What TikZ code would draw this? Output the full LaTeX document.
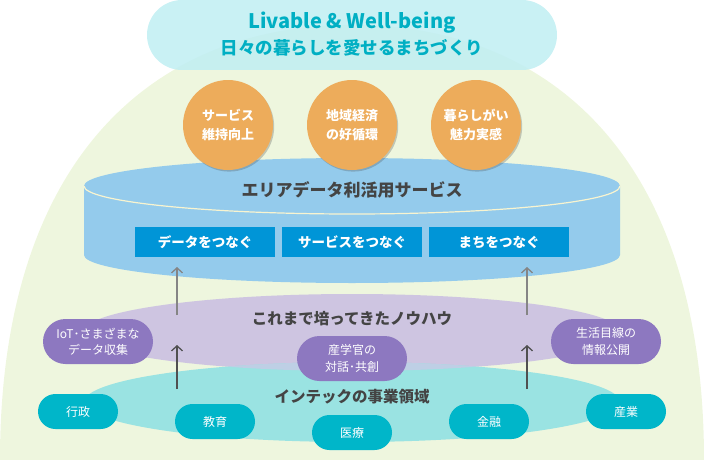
\documentclass[tikz,border=0pt]{standalone}
\usepackage{fontspec}
\setmainfont{Noto Sans CJK JP}
\usetikzlibrary{arrows.meta,shadows}
\definecolor{domecol}{HTML}{EEF6DE}
\definecolor{pillcol}{HTML}{BFEEF2}
\definecolor{titlecol}{HTML}{00AFC3}
\definecolor{orangecol}{HTML}{EDAC5B}
\definecolor{cylcol}{HTML}{94CBEC}
\definecolor{creamcol}{HTML}{F8F4D0}
\definecolor{bluecol}{HTML}{0095D7}
\definecolor{lavcol}{HTML}{CEC5E1}
\definecolor{cyancol}{HTML}{9AE3E2}
\definecolor{mixcol}{HTML}{BECFE5}
\definecolor{purplecol}{HTML}{8D78C0}
\definecolor{tealcol}{HTML}{00B6C9}
\definecolor{darktext}{HTML}{444444}
\definecolor{arrowlight}{HTML}{858585}
\definecolor{arrowdark}{HTML}{505050}
\begin{document}
\begin{tikzpicture}[x=1pt,y=-1pt,
  titlepill/.style={fill=pillcol,fill opacity=0.85,rounded corners=35pt,minimum width=410pt,minimum height=70pt,inner sep=0pt},
  titletext/.style={text=titlecol,font=\bfseries},
  goalcircle/.style={circle,fill=orangecol,minimum size=90pt,inner sep=0pt,text=white,align=center,
    font=\bfseries\fontsize{13}{19}\selectfont,
    drop shadow={shadow xshift=1.2pt,shadow yshift=-1.6pt,opacity=0.28,fill=black!70}},
  bluebox/.style={fill=bluecol,minimum width=140pt,minimum height=30pt,inner sep=0pt,text=white,font=\bfseries\fontsize{13.5}{16}\selectfont},
  layertext/.style={text=darktext,font=\bfseries\fontsize{15.5}{18}\selectfont},
  purplepill/.style={fill=purplecol,rounded corners=22.5pt,minimum width=110pt,minimum height=45pt,inner sep=0pt,text=white,align=center,font=\fontsize{12}{16.3}\selectfont},
  tealpill/.style={fill=tealcol,rounded corners=17.5pt,minimum width=80pt,minimum height=35pt,inner sep=0pt,text=white,font=\fontsize{12}{14}\selectfont},
  uparrowlight/.style={draw=arrowlight,line width=1.3pt,-{Straight Barb[length=5pt,width=11pt]}},
  uparrowdark/.style={draw=arrowdark,line width=1.3pt,-{Straight Barb[length=5pt,width=11pt]}}
]
\useasboundingbox (0,0) rectangle (704,460);
% dome
\fill[domecol] (0,460) .. controls (0,160) and (152,25) .. (352,25) .. controls (552,25) and (704,160) .. (704,460) -- cycle;
% title pill
\node[titlepill] (title) at (352,35) {};
\node[titletext,font=\bfseries\fontsize{20}{22}\selectfont] (t1) at (352,23) {Livable \& Well-being};
\node[titletext,font=\bfseries\fontsize{17.5}{20}\selectfont] (t2) at (352,48) {日々の暮らしを愛せるまちづくり};
% cylinder
\fill[cylcol] (84,186) -- (84,255) arc[start angle=180,end angle=360,x radius=268pt,y radius=28pt]
  -- (620,186) arc[start angle=0,end angle=180,x radius=268pt,y radius=28pt] -- cycle;
\draw[creamcol,line width=1.2pt] (84,186) arc[start angle=180,end angle=360,x radius=268pt,y radius=28pt];
\node[text=darktext,font=\bfseries\fontsize{17}{20}\selectfont] (cyltitle) at (352,190) {エリアデータ利活用サービス};
\node[bluebox] (b1) at (205,242) {データをつなぐ};
\node[bluebox] (b2) at (352,242) {サービスをつなぐ};
\node[bluebox] (b3) at (499,242) {まちをつなぐ};
% goal circles
\node[goalcircle] (g1) at (228,125) {サービス\\維持向上};
\node[goalcircle] (g2) at (352,125) {地域経済\\の好循環};
\node[goalcircle] (g3) at (476,125) {暮らしがい\\魅力実感};
% layers
\fill[lavcol] (352,332.5) ellipse [x radius=270pt,y radius=38.5pt];
\fill[cyancol] (352,402) ellipse [x radius=268pt,y radius=40pt];
\begin{scope}
  \clip (352,402) ellipse [x radius=268pt,y radius=40pt];
  \fill[mixcol] (352,332.5) ellipse [x radius=270pt,y radius=38.5pt];
\end{scope}
\node[layertext] (know) at (352,319) {これまで培ってきたノウハウ};
\node[layertext] (biz) at (352,397) {インテックの事業領域};
% arrows
\coordinate (ul1) at (177,315); \coordinate (ul2) at (177,267);
\coordinate (ll1) at (177,389); \coordinate (ll2) at (177,345);
\coordinate (ur1) at (527,315); \coordinate (ur2) at (527,267);
\coordinate (lr1) at (527,389); \coordinate (lr2) at (527,345);
\draw[uparrowlight] (ul1) -- (ul2);
\draw[uparrowlight] (ur1) -- (ur2);
\draw[uparrowdark] (ll1) -- (ll2);
\draw[uparrowdark] (lr1) -- (lr2);
% purple pills
\node[purplepill] (p1) at (98,341.5) {IoT･さまざまな\\データ収集};
\node[purplepill] (p2) at (352,358.5) {産学官の\\対話･共創};
\node[purplepill] (p3) at (606,341.5) {生活目線の\\情報公開};
% teal pills
\node[tealpill] (d1) at (78,411.5) {行政};
\node[tealpill] (d2) at (215,421.5) {教育};
\node[tealpill] (d3) at (352,432.5) {医療};
\node[tealpill] (d4) at (489,421.5) {金融};
\node[tealpill] (d5) at (626,411.5) {産業};
\end{tikzpicture}
\end{document}
